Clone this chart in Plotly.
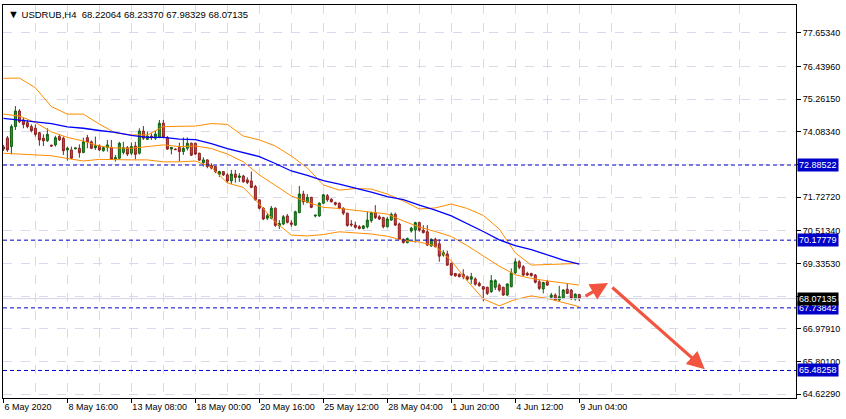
import plotly.graph_objects as go

# H4 bars, index 0 = 6 May 2020 00:00 ... 144 = 9 Jun 2020 04:00
opens = [73.54, 73.86, 73.55, 74.27, 74.83, 74.51, 74.41, 74.27, 74.21, 74.05,
         73.85, 73.76, 73.60, 73.61, 73.91, 73.85, 73.43, 73.43, 73.47, 73.49,
         73.34, 73.87, 73.72, 73.51, 73.58, 73.40, 73.52, 73.52, 73.10, 73.13,
         73.34, 73.51, 73.31, 73.57, 73.31, 74.11, 73.81, 73.93, 73.85, 73.90,
         74.39, 73.88, 73.46, 73.46, 73.52, 73.37, 73.49, 73.67, 73.67, 73.31,
         72.97, 73.07, 72.87, 72.83, 72.55, 72.65, 72.53, 72.31, 72.56, 72.44,
         72.49, 72.35, 72.31, 72.11, 71.63, 71.33, 70.97, 70.97, 71.33, 70.70,
         70.76, 71.05, 70.80, 70.72, 71.17, 71.84, 71.54, 71.72, 71.05, 71.05,
         71.51, 71.78, 71.65, 71.53, 71.51, 71.33, 71.15, 70.76, 70.72, 70.66,
         70.60, 70.66, 70.88, 71.17, 71.02, 70.99, 70.66, 70.90, 71.11, 70.76,
         70.21, 70.09, 70.51, 70.54, 70.81, 70.54, 70.48, 69.97, 70.21, 70.05,
         69.64, 69.68, 69.34, 68.98, 68.95, 68.95, 68.86, 68.77, 68.78, 68.62,
         68.50, 68.48, 68.32, 68.48, 68.56, 68.48, 68.20, 68.50, 69.00, 69.40,
         69.22, 68.98, 68.98, 68.92, 68.68, 68.42, 68.68, 68.12, 68.20, 68.02,
         68.08, 68.41, 68.38, 68.06, 68.22064]
highs = [73.61, 73.93, 74.35, 75.01, 74.90, 74.59, 74.51, 74.35, 74.35, 74.08,
         73.99, 74.21, 73.62, 73.94, 73.99, 73.91, 73.55, 73.55, 73.52, 73.63,
         73.87, 73.97, 73.77, 73.91, 73.63, 73.57, 73.79, 73.79, 73.25, 73.72,
         73.72, 73.57, 73.70, 73.72, 74.21, 74.29, 74.09, 74.03, 74.11, 74.51,
         74.51, 73.93, 73.53, 73.48, 73.69, 73.88, 73.88, 73.69, 73.69, 73.33,
         73.16, 73.09, 72.95, 72.85, 72.68, 72.67, 72.59, 72.71, 72.71, 72.59,
         72.53, 72.44, 72.65, 72.17, 71.65, 71.36, 71.15, 71.41, 71.36, 70.90,
         71.08, 71.12, 70.90, 71.24, 72.13, 71.96, 71.84, 71.74, 71.08, 71.54,
         71.84, 71.84, 71.69, 71.56, 71.54, 71.36, 71.17, 70.90, 70.84, 70.72,
         70.72, 71.20, 71.20, 71.44, 71.08, 71.02, 71.02, 71.17, 71.17, 70.81,
         70.24, 70.27, 70.66, 70.84, 70.84, 70.72, 70.72, 70.24, 70.27, 70.21,
         69.82, 69.80, 69.37, 68.99, 68.98, 69.13, 68.90, 69.00, 68.84, 68.68,
         68.53, 68.50, 68.92, 68.77, 68.62, 68.50, 68.62, 69.16, 69.52, 69.46,
         69.28, 69.04, 69.00, 68.96, 68.74, 68.68, 68.74, 68.28, 68.26, 68.53,
         68.41, 68.62, 68.41, 68.26, 68.23370]
lows = [73.39, 73.36, 73.27, 74.15, 74.40, 74.21, 74.21, 74.06, 73.91, 73.58,
        73.57, 73.72, 73.55, 73.55, 73.76, 73.25, 73.04, 73.10, 73.45, 73.15,
        73.31, 73.49, 73.46, 73.43, 73.39, 73.37, 73.37, 73.07, 73.01, 73.09,
        73.27, 73.21, 73.25, 73.09, 73.27, 73.79, 73.79, 73.79, 73.79, 73.85,
        73.85, 73.43, 73.27, 73.43, 73.01, 73.25, 73.41, 73.21, 73.25, 73.04,
        72.83, 72.77, 72.73, 72.59, 72.46, 72.49, 72.24, 72.20, 72.25, 72.28,
        72.25, 72.20, 72.05, 71.60, 71.29, 70.90, 70.90, 70.93, 70.66, 70.58,
        70.72, 70.78, 70.66, 70.69, 71.15, 71.45, 71.51, 71.33, 71.00, 71.02,
        71.48, 71.56, 71.54, 71.42, 71.29, 71.08, 70.66, 70.66, 70.60, 70.57,
        70.57, 70.60, 70.81, 70.94, 70.90, 70.60, 70.64, 70.88, 70.69, 70.18,
        70.06, 70.06, 70.45, 70.09, 70.48, 70.42, 69.97, 69.94, 69.92, 69.40,
        69.58, 69.25, 68.89, 68.86, 68.84, 68.77, 68.72, 68.60, 68.54, 68.50,
        67.98, 68.20, 68.28, 68.38, 68.32, 68.17, 68.17, 68.48, 68.96, 69.13,
        68.89, 68.89, 68.86, 68.62, 68.38, 68.26, 68.53, 68.02, 67.98, 68.00,
        68.05, 68.24, 68.02, 68.00, 67.98329]
closes = [73.46, 73.43, 74.27, 74.83, 74.45, 74.35, 74.27, 74.12, 73.99, 73.79,
          73.76, 73.99, 73.57, 73.87, 73.79, 73.40, 73.49, 73.13, 73.50, 73.33,
          73.72, 73.72, 73.49, 73.58, 73.43, 73.51, 73.61, 73.10, 73.15, 73.67,
          73.51, 73.28, 73.55, 73.27, 74.11, 73.85, 73.93, 73.87, 74.00, 74.39,
          73.90, 73.46, 73.52, 73.44, 73.37, 73.49, 73.67, 73.24, 73.28, 73.06,
          73.07, 72.83, 72.78, 72.65, 72.65, 72.53, 72.31, 72.56, 72.44, 72.49,
          72.28, 72.26, 72.08, 71.63, 71.33, 70.94, 71.06, 71.33, 70.71, 70.78,
          71.02, 70.82, 70.75, 71.20, 71.84, 71.56, 71.72, 71.36, 71.08, 71.51,
          71.81, 71.63, 71.56, 71.47, 71.33, 71.15, 70.71, 70.73, 70.64, 70.60,
          70.69, 70.90, 71.17, 70.99, 70.94, 70.66, 70.94, 71.11, 70.72, 70.21,
          70.09, 70.24, 70.61, 70.81, 70.54, 70.45, 70.00, 70.21, 69.94, 69.60,
          69.73, 69.28, 68.92, 68.89, 68.86, 68.86, 68.77, 68.86, 68.59, 68.54,
          68.41, 68.26, 68.72, 68.72, 68.38, 68.20, 68.60, 69.00, 69.40, 69.20,
          68.92, 68.92, 68.90, 68.66, 68.44, 68.65, 68.56, 68.20, 68.02, 68.14,
          68.38, 68.26, 68.08, 68.23, 68.07135]

# indicator lines read every 4 bars
band_x = list(range(0, 145, 4))
bb_upper = [76.01, 76.02, 75.67, 74.99, 74.72, 74.72, 74.36, 74.04, 73.97, 73.97,
            74.27, 74.27, 74.29, 74.38, 74.35, 73.93, 73.79, 73.57, 73.21, 72.78,
            72.17, 71.98, 72.04, 72.02, 71.84, 71.59, 71.30, 71.34, 71.48, 71.32,
            71.07, 70.58, 69.72, 69.28, 69.30, 69.34, 69.34]
bb_middle = [74.72, 74.65, 74.42, 74.08, 73.88, 73.75, 73.57, 73.50, 73.49, 73.55,
             73.61, 73.55, 73.57, 73.48, 73.28, 73.00, 72.53, 72.15, 71.77, 71.55,
             71.36, 71.32, 71.26, 71.20, 71.12, 70.87, 70.65, 70.49, 70.31, 69.98,
             69.62, 69.24, 68.93, 68.80, 68.71, 68.63, 68.56]
bb_lower = [73.31, 73.28, 73.23, 73.22, 73.12, 73.03, 73.09, 73.07, 73.07, 73.07,
            73.00, 73.00, 73.03, 72.81, 72.24, 72.08, 71.48, 70.83, 70.36, 70.33,
            70.38, 70.48, 70.45, 70.40, 70.32, 70.17, 70.11, 69.97, 69.43, 68.71,
            68.06, 67.81, 68.04, 68.17, 68.08, 67.92, 67.78]
ma_blue = [74.57, 74.51, 74.44, 74.38, 74.26, 74.21, 74.13, 74.06, 73.95, 73.88,
           73.88, 73.82, 73.80, 73.66, 73.48, 73.34, 73.19, 72.94, 72.67, 72.51,
           72.32, 72.20, 72.06, 71.91, 71.75, 71.64, 71.44, 71.26, 71.05, 70.78,
           70.49, 70.19, 69.98, 69.84, 69.64, 69.46, 69.31]

time_ticks = list(range(0, 145, 16))
time_labels = ["6 May 2020", "8 May 16:00", "13 May 08:00", "18 May 00:00",
               "20 May 16:00", "25 May 12:00", "28 May 04:00", "1 Jun 20:00",
               "4 Jun 12:00", "9 Jun 04:00"]

price_ticks = [77.65340, 76.43960, 75.26150, 74.08340, 72.90530, 71.72720,
               70.51340, 69.33530, 68.15720, 66.97910, 65.80100, 64.62290]
price_labels = ["77.65340", "76.43960", "75.26150", "74.08340", "", "71.72720",
                "70.51340", "69.33530", "", "66.97910", "65.80100", "64.62290"]

levels = [72.88522, 70.17779, 67.73842, 65.48258]
last_price = 68.07135
title = "USDRUB,H4  68.22064 68.23370 67.98329 68.07135"

# forecast arrows: (tail bar, tail price, head bar, head price)
arrows = [(145.2, 68.13, 151.2, 68.63), (151.9, 68.52, 175.4, 65.53)]

FONT = "Liberation Sans"
GRID = "#d9d9ee"

fig = go.Figure()

for lv in levels:
    fig.add_hline(y=lv, line=dict(color="#0000c8", width=1, dash="4px,3px"))
fig.add_hline(y=last_price, line=dict(color="#d4d4e6", width=1))

orange = "#ff8c00"
for band in (bb_upper, bb_middle, bb_lower):
    fig.add_trace(go.Scatter(x=band_x, y=band, mode="lines",
                             line=dict(color=orange, width=1), hoverinfo="skip"))
fig.add_trace(go.Scatter(x=band_x, y=ma_blue, mode="lines",
                         line=dict(color="#0000ff", width=1.3), hoverinfo="skip"))

fig.add_trace(go.Candlestick(
    x=list(range(len(opens))), open=opens, high=highs, low=lows, close=closes,
    increasing=dict(fillcolor="#22a322", line=dict(color="#0d5e0d", width=1)),
    decreasing=dict(fillcolor="#e2403a", line=dict(color="#8a1c1c", width=1)),
    whiskerwidth=0,
))

for x0, y0, x1, y1 in arrows:
    fig.add_annotation(x=x1, y=y1, ax=x0, ay=y0, xref="x", yref="y",
                       axref="x", ayref="y", text="", showarrow=True,
                       arrowhead=2, arrowsize=1.1, arrowwidth=3.2,
                       arrowcolor="#f2553f")

for lv in levels:
    fig.add_annotation(x=1, y=lv, xref="paper", yref="y", xanchor="left",
                       text="%.5f" % lv, showarrow=False, xshift=1,
                       bgcolor="#0000c8", borderpad=1,
                       font=dict(family=FONT, size=9, color="white"))
fig.add_annotation(x=1, y=last_price, xref="paper", yref="y", xanchor="left",
                   text="%.5f" % last_price, showarrow=False, xshift=1,
                   bgcolor="black", borderpad=1,
                   font=dict(family=FONT, size=9, color="white"))

fig.add_annotation(x=0, y=1, xref="paper", yref="paper", xanchor="left",
                   yanchor="top", showarrow=False, xshift=3, yshift=-1,
                   text="<span style='font-size:11px'>▼</span> " + title,
                   font=dict(family=FONT, size=9.5, color="black"))

fig.update_layout(
    width=846, height=419,
    margin=dict(l=3, r=50, t=5, b=21),
    paper_bgcolor="white", plot_bgcolor="white",
    showlegend=False,
    font=dict(family=FONT, size=9, color="black"),
    xaxis=dict(
        range=[-0.1, 198.2], rangeslider=dict(visible=False),
        tickmode="array", tickvals=time_ticks, ticktext=time_labels,
        ticks="outside", ticklen=4, tickcolor="black",
        ticklabelposition="outside right",
        showgrid=True, gridcolor=GRID, griddash="dash", gridwidth=1,
        minor=dict(tickmode="linear", tick0=8, dtick=16, showgrid=True,
                   gridcolor=GRID, griddash="dash", ticks=""),
        showline=True, linecolor="black", linewidth=1, mirror=True,
        zeroline=False,
    ),
    yaxis=dict(
        range=[64.49, 78.652], side="right",
        tickmode="array", tickvals=price_ticks, ticktext=price_labels,
        ticks="outside", ticklen=4, tickcolor="black",
        showgrid=True, gridcolor=GRID, griddash="dash", gridwidth=1,
        showline=True, linecolor="black", linewidth=1, mirror=True,
        zeroline=False,
    ),
)

fig.write_html("out.html", config={"displayModeBar": False},
               post_script="document.body.style.margin='0px';")
